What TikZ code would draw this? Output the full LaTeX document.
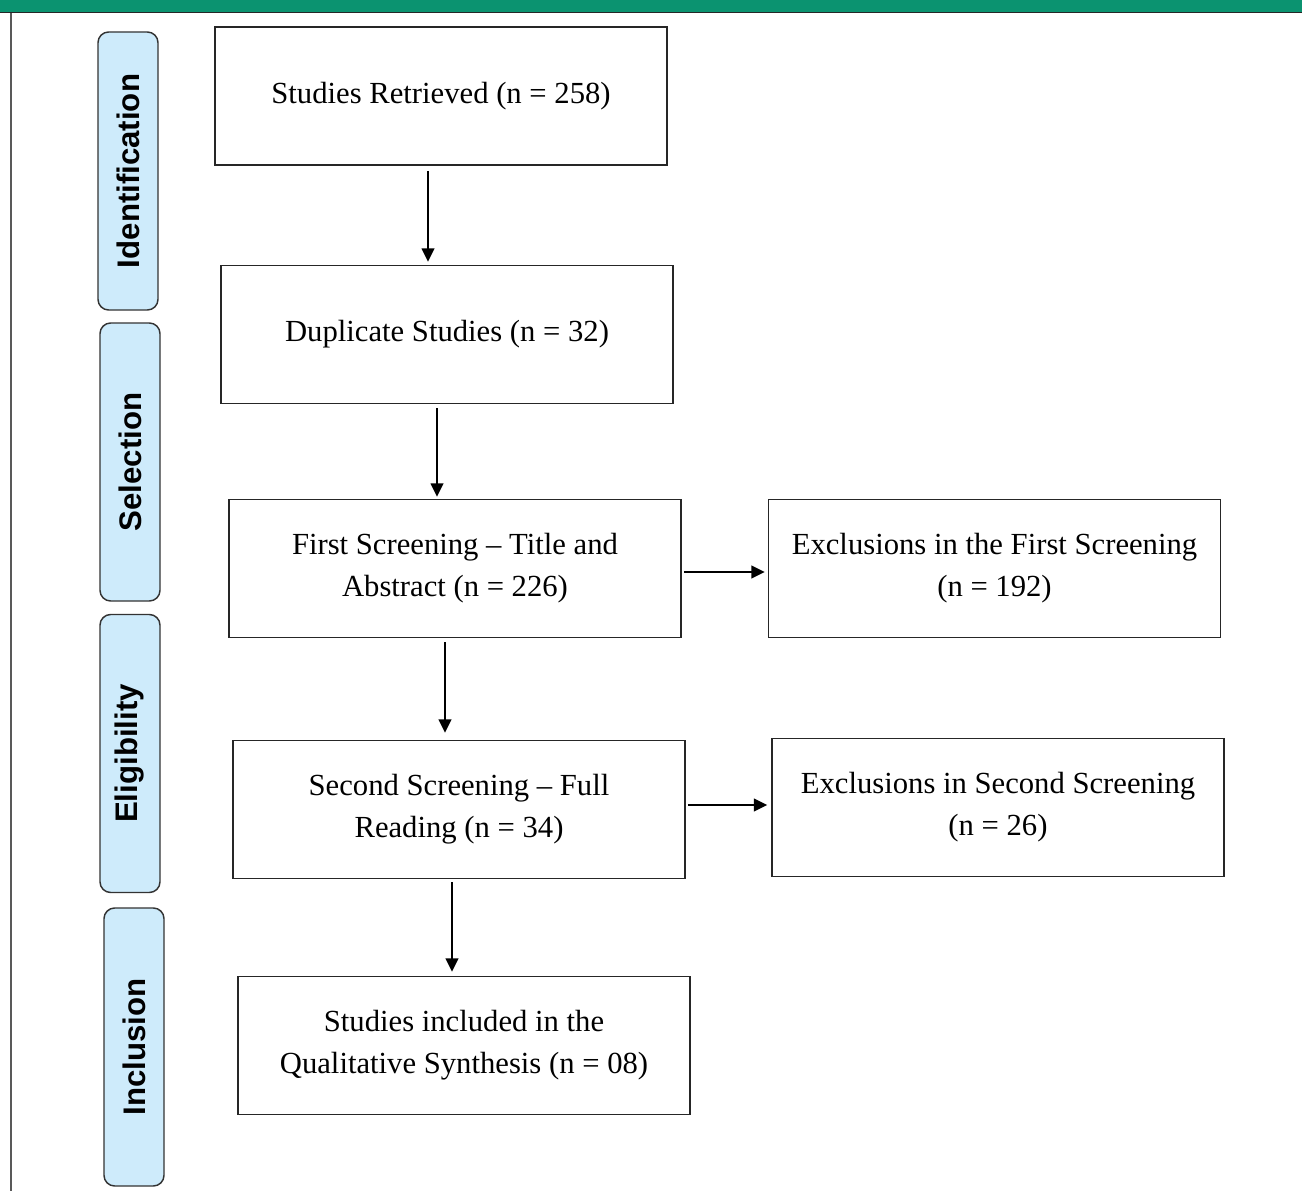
\documentclass[tikz,border=0pt]{standalone}
\usepackage{fontspec}
\setmainfont{Liberation Serif}
\newfontfamily\labelfont{Liberation Sans}
\usetikzlibrary{arrows.meta,calc}
\definecolor{bargreen}{RGB}{11,147,112}
\definecolor{phaseblue}{RGB}{206,235,251}
\begin{document}
\begin{tikzpicture}[x=0.75pt, y=-0.75pt,
    box/.style = {draw=black!85, line width=1.2pt, fill=white, minimum width=452*0.75pt, minimum height=138*0.75pt, align=center, inner sep=0pt, font=\fontsize{23}{31.5}\selectfont},
    phase/.style = {draw=black!80, line width=1.1pt, fill=phaseblue, rounded corners=8pt, rotate=90, minimum width=278*0.75pt, minimum height=60*0.75pt, inner sep=0pt, font=\labelfont\bfseries\fontsize{23.4}{28}\selectfont},
    arr/.style = {-{Triangle[length=10pt, width=9.5pt]}, line width=1.3pt}]
    \useasboundingbox (0,0) rectangle (1302,1191);
    % frame
    \fill[bargreen] (0,0) rectangle (1302,12);
    \draw[black!85, line width=1.2pt] (0,12.5) -- (1302,12.5);
    \draw[black!65, line width=0.8pt] (11,13) -- (11,1191);
    % phases
    \node[phase] (ident) at (128,171) {Identification};
    \node[phase] (sel) at (130,462) {Selection};
    \node[phase] (elig) at (130,753.5) {Eligibility};
    \node[phase] (incl) at (134,1047) {Inclusion};
    % boxes
    \node[box] (ret) at (441,96) {Studies Retrieved (n = 258)};
    \node[box] (dup) at (447,334.5) {Duplicate Studies (n = 32)};
    \node[box] (first) at (455,568.5) {First Screening -- Title and\\Abstract (n = 226)};
    \node[box] (exc1) at (994.5,568.5) {Exclusions in the First Screening\\(n = 192)};
    \node[box] (second) at (459,809.5) {Second Screening -- Full\\Reading (n = 34)};
    \node[box] (exc2) at (998,807.5) {Exclusions in Second Screening\\(n = 26)};
    \node[box] (res) at (464,1045.5) {Studies included in the\\Qualitative Synthesis (n = 08)};
    % arrows
    \draw[arr] ($(ret.south)+(-13,5)$) -- ($(ret.south |- dup.north)+(-13,-3)$);
    \draw[arr] ($(dup.south)+(-10,4)$) -- ($(dup.south |- first.north)+(-10,-2)$);
    \draw[arr] ($(first.south)+(-10,4)$) -- ($(first.south |- second.north)+(-10,-7)$);
    \draw[arr] ($(second.south)+(-7,3)$) -- ($(second.south |- res.north)+(-7,-4)$);
    \draw[arr] ($(first.east)+(2,3.5)$) -- ($(first.east -| exc1.west)+(-3,3.5)$);
    \draw[arr] ($(second.east)+(2,-4.5)$) -- ($(second.east -| exc2.west)+(-4,-4.5)$);
\end{tikzpicture}
\end{document}
